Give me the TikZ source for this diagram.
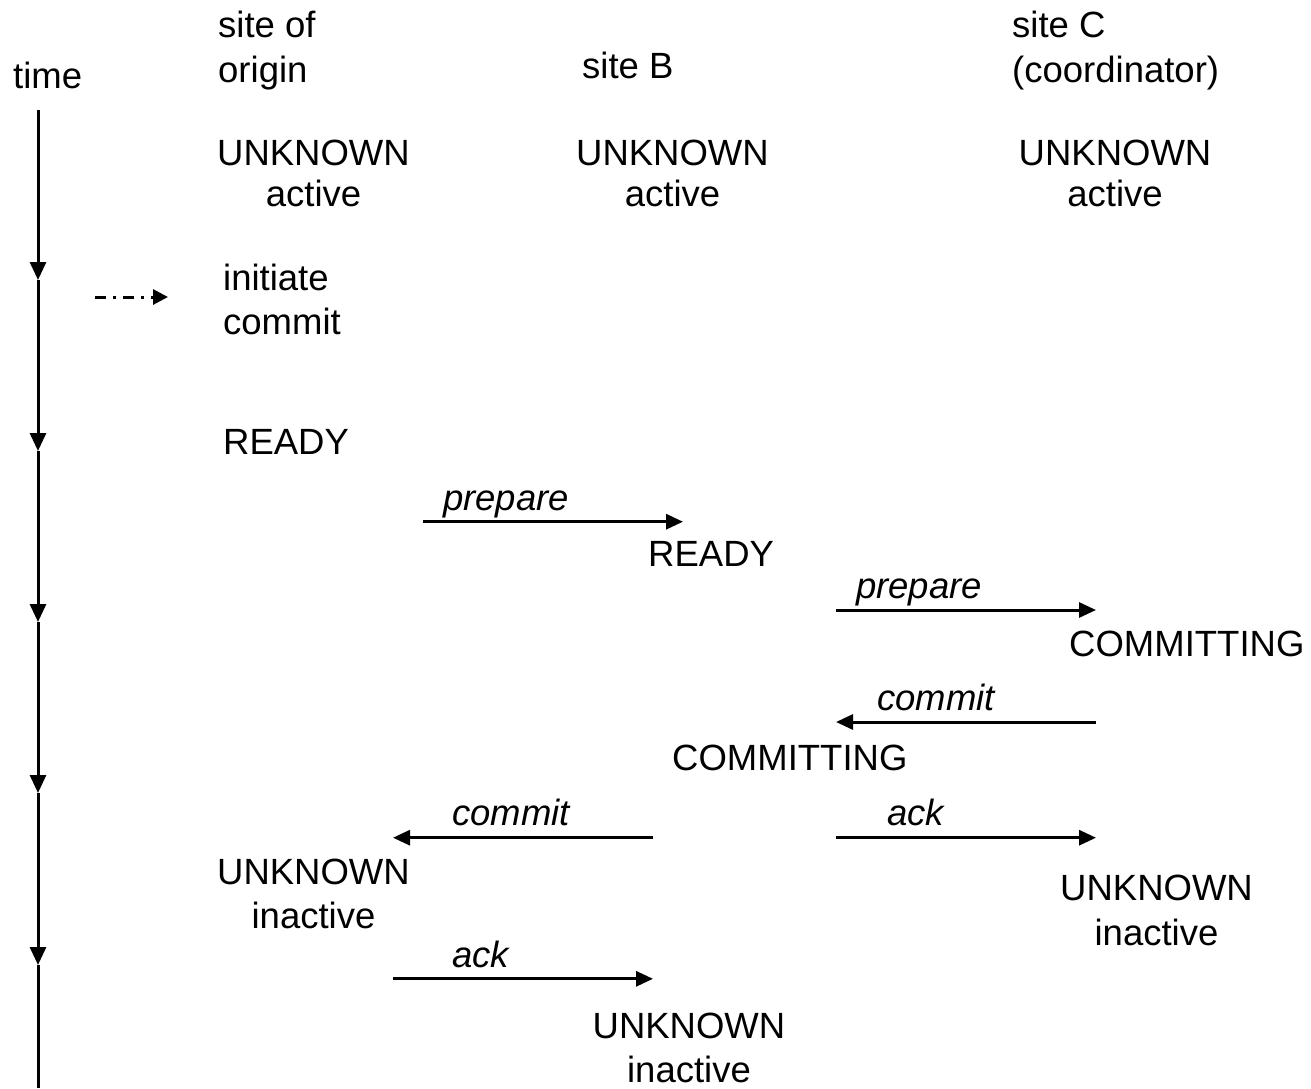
\documentclass[tikz,border=0pt]{standalone}
\usepackage{fontspec}
\setmainfont{Liberation Sans}
\usetikzlibrary{arrows.meta}

% two stacked lines whose baseline is that of the first line
\newcommand\stackC[2]{\begin{tabular}[t]{@{}c@{}}#1\\#2\end{tabular}}
\newcommand\stackL[2]{\begin{tabular}[t]{@{}l@{}}#1\\#2\end{tabular}}

\begin{document}
\begin{tikzpicture}[x=1pt,y=-1pt,
  every node/.style={inner sep=0pt,font=\fontsize{36.5}{44}\selectfont},
  txt/.style={anchor=base west},
  state/.style={anchor=base},
  msglbl/.style={anchor=base west,font=\fontsize{36.5}{44}\selectfont\itshape},
  msg/.style={line width=3pt,-{Triangle[length=17pt,width=15pt]}},
  tick/.style={line width=3pt,-{Triangle[length=18pt,width=16pt]}},
  axis/.style={line width=3pt}]
\useasboundingbox (0,0) rectangle (1311,1088);

% column headings
\node[txt] (time) at (13,88) {time};
\node[txt,font=\fontsize{36.5}{45}\selectfont] (hA) at (218,37) {\stackL{site of}{origin}};
\node[txt] (hB) at (582,78) {site B};
\node[txt,font=\fontsize{36.5}{45}\selectfont] (hC) at (1012,37) {\stackL{site C}{(coordinator)}};

% initial states
\node[state,font=\fontsize{36.5}{41}\selectfont] (sA0) at (313.5,165) {\stackC{UNKNOWN}{active}};
\node[state,font=\fontsize{36.5}{41}\selectfont] (sB0) at (672.5,165) {\stackC{UNKNOWN}{active}};
\node[state,font=\fontsize{36.5}{41}\selectfont] (sC0) at (1115,165) {\stackC{UNKNOWN}{active}};

% time axis with its step marks
\coordinate (t0) at (38,110);
\coordinate (t1) at (38,280);
\coordinate (t2) at (38,451);
\coordinate (t3) at (38,622);
\coordinate (t4) at (38,793);
\coordinate (t5) at (38,965);
\coordinate (t6) at (38,1088);
\draw[tick] (t0) -- (t1);
\draw[tick] (t1) -- (t2);
\draw[tick] (t2) -- (t3);
\draw[tick] (t3) -- (t4);
\draw[tick] (t4) -- (t5);
\draw[axis] (t5) -- (t6);

% request to commit
\coordinate (ia) at (95,297);
\coordinate (ib) at (168,297);
\draw[line width=3pt,dash pattern=on 11pt off 7pt on 3pt off 7pt,
      -{Triangle[length=15pt,width=15pt]}] (ia) -- (ib);
\node[txt] (init) at (223,290.7) {\stackL{initiate}{commit}};

% states along the protocol
\node[txt] (rA) at (223,454) {READY};
\node[txt] (rB) at (648,566) {READY};
\node[txt] (cC) at (1069,656) {COMMITTING};
\node[txt] (cB) at (672,770) {COMMITTING};
\node[state] (uA) at (313.5,884) {\stackC{UNKNOWN}{inactive}};
\node[state,font=\fontsize{36.5}{45}\selectfont] (uC) at (1156.5,900) {\stackC{UNKNOWN}{inactive}};
\node[state] (uB) at (689,1038) {\stackC{UNKNOWN}{inactive}};

% messages
\coordinate (p1s) at (423,521.7);  \coordinate (p1e) at (683,521.7);
\coordinate (p2s) at (836,610);    \coordinate (p2e) at (1096,610);
\coordinate (c1s) at (1096,722);   \coordinate (c1e) at (836,722);
\coordinate (c2s) at (653,837.7);  \coordinate (c2e) at (393,837.7);
\coordinate (a1s) at (836,837.7);  \coordinate (a1e) at (1096,837.7);
\coordinate (a2s) at (393,978.8);  \coordinate (a2e) at (653,978.8);

\draw[msg] (p1s) -- (p1e);
\draw[msg] (p2s) -- (p2e);
\draw[msg] (c1s) -- (c1e);
\draw[msg] (c2s) -- (c2e);
\draw[msg] (a1s) -- (a1e);
\draw[msg] (a2s) -- (a2e);

\node[msglbl] (lp1) at (443,510) {prepare};
\node[msglbl] (lp2) at (856,598) {prepare};
\node[msglbl] (lc1) at (877,710) {commit};
\node[msglbl] (lc2) at (452,825) {commit};
\node[msglbl] (la1) at (887,825) {ack};
\node[msglbl] (la2) at (452,967) {ack};
\end{tikzpicture}
\end{document}
